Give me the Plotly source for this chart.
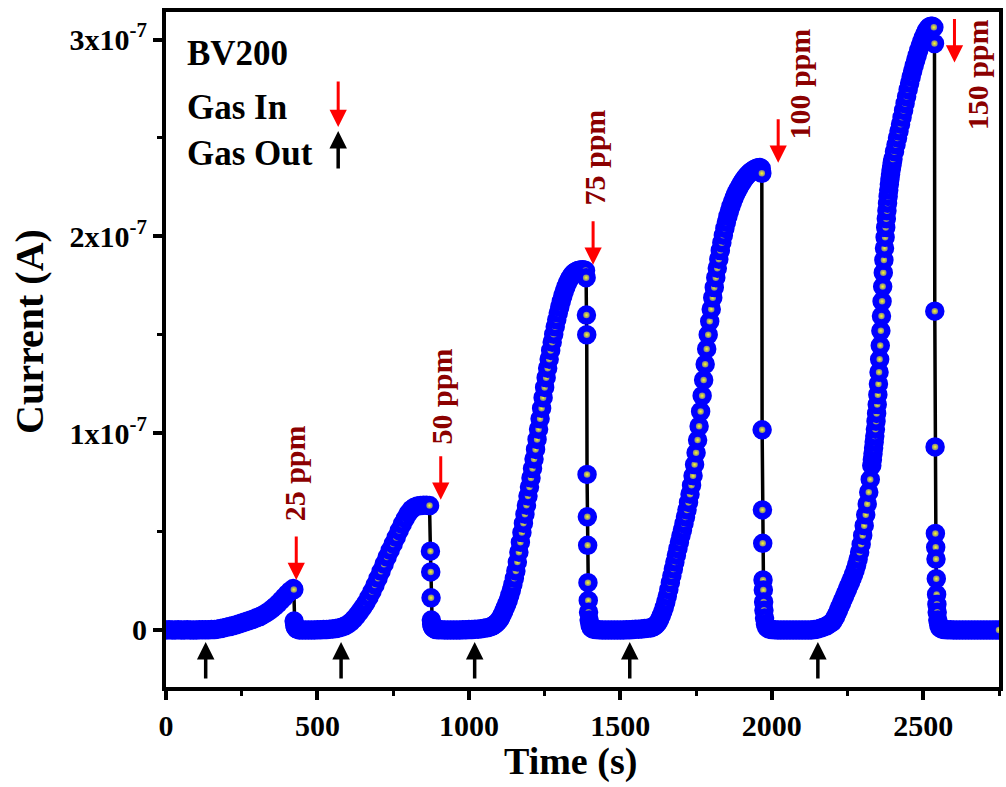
import plotly.graph_objects as go

# ---------------- data (current in units of 1e-7 A) ----------------
# cycle 1 (25 ppm)
c1_base_t = list(range(0, 160, 10))
c1_base_v = [0.000, 0.001, 0.000, 0.000, 0.001, 0.000, 0.000, 0.001, 0.000, 0.000,
             0.000, 0.001, 0.001, 0.001, 0.001, 0.002]
c1_rise_t = list(range(160, 430, 10))
c1_rise_v = [0.002, 0.004, 0.007, 0.010, 0.014, 0.017, 0.021, 0.025, 0.030, 0.035,
             0.040, 0.045, 0.050, 0.056, 0.062, 0.068, 0.076, 0.085, 0.095, 0.107,
             0.120, 0.134, 0.150, 0.166, 0.183, 0.198, 0.210]
c1_drop_t = [422, 423, 425, 427, 430, 434, 440]
c1_drop_v = [0.205, 0.045, 0.025, 0.014, 0.007, 0.003, 0.000]

# cycle 2 (50 ppm)
c2_base_t = list(range(450, 600, 10))
c2_base_v = [0.000, 0.000, 0.000, 0.000, 0.000, 0.001, 0.001, 0.002, 0.002, 0.003,
             0.005, 0.007, 0.010, 0.014, 0.020]
c2_rise_t = list(range(600, 880, 10))
c2_rise_v = [0.028, 0.040, 0.055, 0.073, 0.093, 0.115, 0.138, 0.165, 0.195, 0.228,
             0.262, 0.298, 0.334, 0.370, 0.404, 0.437, 0.470, 0.505, 0.537, 0.566,
             0.592, 0.612, 0.624, 0.630, 0.632, 0.633, 0.633, 0.632]
c2_drop_t = [873, 874, 875, 876, 877, 879, 882, 886, 892]
c2_drop_v = [0.400, 0.295, 0.163, 0.050, 0.030, 0.018, 0.010, 0.005, 0.002]

# cycle 3 (75 ppm)
c3_base_t = list(range(900, 1080, 10))
c3_base_v = [0.001, 0.001, 0.000, 0.000, 0.000, 0.000, 0.000, 0.000, 0.001, 0.001,
             0.002, 0.002, 0.003, 0.004, 0.006, 0.008, 0.011, 0.015]
c3_rise_t = list(range(1075, 1390, 5))
c3_rise_v = [0.018, 0.022, 0.027, 0.033, 0.041, 0.050, 0.063, 0.078, 0.095, 0.113,
             0.132, 0.152, 0.176, 0.202, 0.230, 0.262, 0.300, 0.345, 0.395, 0.445,
             0.495, 0.542, 0.588, 0.634, 0.680, 0.726, 0.772, 0.820, 0.868, 0.917,
             0.968, 1.020, 1.073, 1.126, 1.180, 1.232, 1.282, 1.330, 1.376, 1.420,
             1.462, 1.502, 1.540, 1.576, 1.610, 1.641, 1.670, 1.697, 1.722, 1.743,
             1.762, 1.778, 1.792, 1.803, 1.812, 1.818, 1.823, 1.826, 1.828, 1.829,
             1.830, 1.829, 1.826]
c3_drop_t = [1387, 1388, 1389, 1390, 1391, 1392, 1393, 1394, 1395, 1397, 1400, 1404, 1410]
c3_drop_v = [1.790, 1.600, 1.500, 0.790, 0.575, 0.430, 0.240, 0.150, 0.090, 0.050,
             0.025, 0.010, 0.004]

# cycle 4 (100 ppm)
c4_base_t = list(range(1420, 1600, 10))
c4_base_v = [0.002, 0.001, 0.000, 0.000, 0.000, 0.000, 0.000, 0.000, 0.000, 0.000,
             0.001, 0.001, 0.002, 0.003, 0.004, 0.005, 0.007, 0.009]
c4_rise_t = list(range(1600, 1970, 5))
c4_rise_v = [0.010, 0.013, 0.017, 0.022, 0.030, 0.040, 0.055, 0.072, 0.092, 0.115,
             0.142, 0.172, 0.205, 0.240, 0.275, 0.310, 0.345, 0.380, 0.413, 0.446,
             0.478, 0.508, 0.540, 0.574, 0.610, 0.648, 0.690, 0.735, 0.783, 0.840,
             0.900, 0.965, 1.035, 1.110, 1.190, 1.270, 1.350, 1.428, 1.500, 1.568,
             1.630, 1.688, 1.740, 1.790, 1.838, 1.884, 1.928, 1.968, 2.005, 2.040,
             2.072, 2.101, 2.128, 2.152, 2.174, 2.194, 2.212, 2.228, 2.243, 2.257,
             2.270, 2.282, 2.293, 2.303, 2.312, 2.320, 2.327, 2.333, 2.338, 2.342,
             2.346, 2.349, 2.350, 2.345]
c4_drop_t = [1967, 1968, 1969, 1970, 1971, 1972, 1973, 1974, 1976, 1979, 1983, 1990]
c4_drop_v = [2.320, 1.017, 0.610, 0.440, 0.254, 0.203, 0.142, 0.100, 0.060, 0.030,
             0.013, 0.005]

# cycle 5 (150 ppm)
c5_base_t = list(range(2000, 2200, 10))
c5_base_v = [0.002, 0.001, 0.000, 0.000, 0.000, 0.000, 0.000, 0.000, 0.000, 0.000,
             0.000, 0.000, 0.000, 0.000, 0.002, 0.004, 0.008, 0.014, 0.020, 0.030]
c5_rise_a_t = list(range(2200, 2331, 5))
c5_rise_a_v = [0.040, 0.052, 0.066, 0.082, 0.100, 0.118, 0.136, 0.154, 0.172, 0.190,
               0.208, 0.226, 0.244, 0.262, 0.282, 0.305, 0.330, 0.360, 0.395, 0.435,
               0.480, 0.530, 0.585, 0.640, 0.700, 0.765, 0.835]
c5_rise_b_t = list(range(2332, 2401, 2))
c5_rise_b_v = [0.865, 0.895, 0.925, 0.955, 0.985, 1.020, 1.060, 1.100, 1.145, 1.195,
               1.250, 1.310, 1.375, 1.445, 1.520, 1.595, 1.670, 1.745, 1.815, 1.880,
               1.940, 1.995, 2.045, 2.090, 2.130, 2.168, 2.203, 2.235, 2.265, 2.292,
               2.316, 2.338, 2.358, 2.376, 2.393]
c5_rise_c_t = list(range(2405, 2536, 5))
c5_rise_c_v = [2.430, 2.465, 2.500, 2.535, 2.570, 2.605, 2.640, 2.675, 2.710, 2.745,
               2.778, 2.810, 2.840, 2.868, 2.895, 2.920, 2.945, 2.968, 2.990, 3.010,
               3.028, 3.044, 3.056, 3.064, 3.068, 3.068, 3.062]
c5_drop_t = [2537, 2538, 2539, 2540, 2541, 2542, 2543, 2544, 2545, 2546, 2548, 2551, 2555, 2562]
c5_drop_v = [2.980, 1.620, 0.930, 0.490, 0.420, 0.360, 0.260, 0.180, 0.130, 0.090,
             0.050, 0.025, 0.010, 0.004]
end_base_t = list(range(2570, 2760, 10))
end_base_v = [0.002, 0.001, 0.001, 0.000, 0.000, 0.000, 0.000, 0.000, 0.000, 0.000,
              0.000, 0.000, 0.000, 0.000, 0.000, 0.000, 0.000, 0.000, 0.000]

segments = [
    (c1_base_t, c1_base_v), (c1_rise_t, c1_rise_v), (c1_drop_t, c1_drop_v),
    (c2_base_t, c2_base_v), (c2_rise_t, c2_rise_v), (c2_drop_t, c2_drop_v),
    (c3_base_t, c3_base_v), (c3_rise_t, c3_rise_v), (c3_drop_t, c3_drop_v),
    (c4_base_t, c4_base_v), (c4_rise_t, c4_rise_v), (c4_drop_t, c4_drop_v),
    (c5_base_t, c5_base_v), (c5_rise_a_t, c5_rise_a_v), (c5_rise_b_t, c5_rise_b_v),
    (c5_rise_c_t, c5_rise_c_v), (c5_drop_t, c5_drop_v), (end_base_t, end_base_v),
]
time_s, current = [], []
for t, v in segments:
    assert len(t) == len(v), (t[0], len(t), len(v))
    time_s += t
    current += v

# annotations data
gas_in_labels = ["25 ppm", "50 ppm", "75 ppm", "100 ppm", "150 ppm"]
gas_in_t = [430, 907, 1410, 2021, 2603]          # red arrow positions (s)
gas_in_tip = [0.254, 0.661, 1.856, 2.374, 2.883]  # arrow tip level
label_t = [424, 910, 1416, 2093, 2682]
label_v = [0.798, 1.185, 2.40, 2.776, 2.82]
gas_out_t = [131, 578, 1019, 1531, 2152]          # black arrow positions (s)
gas_out_tip = -0.061

y_tickvals = [0, 1, 2, 3]
y_ticktext = ["0", "1x10<sup>-7</sup>", "2x10<sup>-7</sup>", "3x10<sup>-7</sup>"]

FONT = "Liberation Serif"

fig = go.Figure()
fig.add_trace(go.Scatter(
    x=time_s, y=current, mode="lines+markers",
    line=dict(color="black", width=3.5),
    marker=dict(size=13, color="#0000ff",
                gradient=dict(type="radial", color="#ffff20"),
                line=dict(color="#0000ff", width=6.5)),
    showlegend=False,
))

ann = []
for t, tip in zip(gas_in_t, gas_in_tip):
    ann.append(dict(x=t, y=tip, xref="x", yref="y", text="", showarrow=True,
                    ax=0, ay=-45, arrowcolor="#ff0000", arrowwidth=3,
                    arrowhead=2, arrowsize=1.15, standoff=0))
for lab, t, v in zip(gas_in_labels, label_t, label_v):
    ann.append(dict(x=t, y=v, xref="x", yref="y", text=lab, showarrow=False,
                    textangle=-90, xanchor="center", yanchor="middle",
                    font=dict(family=FONT, size=30, color="#8b0000", weight="bold")))
for t in gas_out_t:
    ann.append(dict(x=t, y=gas_out_tip, xref="x", yref="y", text="", showarrow=True,
                    ax=0, ay=38, arrowcolor="black", arrowwidth=3.5,
                    arrowhead=2, arrowsize=1.0, standoff=0))
# legend-like texts
for txt, yp in [("BV200", 0.939), ("Gas In", 0.858), ("Gas Out", 0.790)]:
    ann.append(dict(x=0.0227, y=yp, xref="paper", yref="paper", text=txt,
                    showarrow=False, xanchor="left", yanchor="middle",
                    font=dict(family=FONT, size=35, color="black", weight="bold")))
ann.append(dict(x=0.2067, y=0.8296, xref="paper", yref="paper", text="", showarrow=True,
                ax=0, ay=-47, arrowcolor="#ff0000", arrowwidth=3, arrowhead=2,
                arrowsize=1.15, standoff=0))
ann.append(dict(x=0.2067, y=0.8237, xref="paper", yref="paper", text="", showarrow=True,
                ax=0, ay=39, arrowcolor="black", arrowwidth=3.5, arrowhead=2,
                arrowsize=1.0, standoff=0))
# axis titles
ann.append(dict(x=0.485, y=-0.111, xref="paper", yref="paper", text="Time (s)",
                showarrow=False, xanchor="center", yanchor="middle",
                font=dict(family=FONT, size=38, color="black", weight="bold")))
ann.append(dict(x=-0.1637, y=0.527, xref="paper", yref="paper", text="Current (A)",
                showarrow=False, xanchor="center", yanchor="middle", textangle=-90,
                font=dict(family=FONT, size=40, color="black", weight="bold")))

axis_common = dict(
    showline=True, linewidth=4, linecolor="black", mirror=True,
    ticks="outside", ticklen=9, tickwidth=4, tickcolor="black",
    showgrid=False, zeroline=False,
    tickfont=dict(family=FONT, size=30, color="black", weight="bold"),
)
fig.update_layout(
    width=1006, height=787,
    margin=dict(l=166, r=3, t=12, b=100),
    paper_bgcolor="white", plot_bgcolor="white",
    xaxis=dict(range=[0, 2750], tick0=0, dtick=500,
               minor=dict(tick0=0, dtick=250, ticks="outside", ticklen=5,
                          tickwidth=3, tickcolor="black"),
               **axis_common),
    yaxis=dict(range=[-0.29, 3.14], tickmode="array", tickvals=y_tickvals,
               ticktext=y_ticktext,
               minor=dict(tickmode="array", tickvals=[0.5, 1.5, 2.5], ticks="outside",
                          ticklen=5, tickwidth=3, tickcolor="black"),
               **axis_common),
    annotations=ann,
)
fig.write_html("out.html")
